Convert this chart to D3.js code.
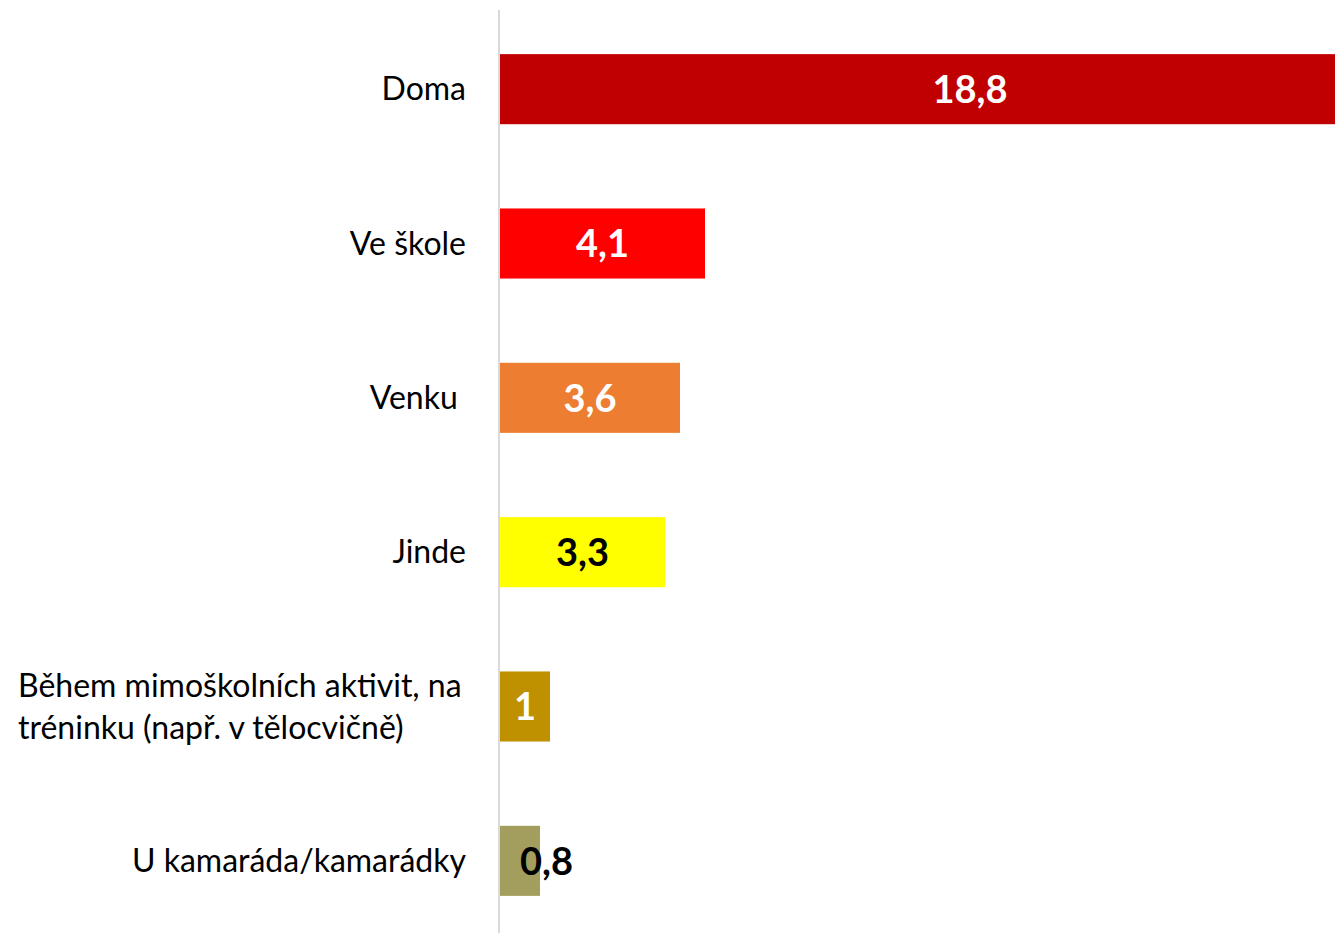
<!DOCTYPE html>
<html>
<head>
<meta charset="utf-8">
<script src="https://cdn.jsdelivr.net/npm/d3@7"></script>
<style>
  html, body { margin: 0; padding: 0; background: #fff; }
  svg { display: block; }
  text { font-family: Lato, "Open Sans", sans-serif; }
</style>
</head>
<body>
<svg id="chart" width="1335" height="933"></svg>
<script>
// Where the time is spent (values in %)
const categories = [
  ["Doma"],
  ["Ve škole"],
  ["Venku "],
  ["Jinde"],
  ["Během mimoškolních aktivit, na", "tréninku (např. v tělocvičně)"],
  ["U kamaráda/kamarádky"]
];
const values = [18.8, 4.1, 3.6, 3.3, 1, 0.8];
const barColors = ["#C00000", "#FF0000", "#ED7D31", "#FFFF00", "#BF9000", "#A39E5E"];
const labelColors = ["#fff", "#fff", "#fff", "#000", "#fff", "#000"];

const svg = d3.select("#chart");
const x0 = 500;
const x = d3.scaleLinear().domain([0, 16.7]).range([x0, 1335]);
const y = d3.scaleBand()
  .domain(d3.range(values.length))
  .range([12, 938])
  .paddingInner(0.546)
  .paddingOuter(0.273);

const fmt = v => String(v).replace(".", ",");

// bars (the longest one runs past the right edge)
svg.append("g").selectAll("rect")
  .data(values)
  .join("rect")
  .attr("x", x(0))
  .attr("y", (d, i) => y(i))
  .attr("width", d => x(d) - x(0))
  .attr("height", y.bandwidth())
  .attr("fill", (d, i) => barColors[i]);

// vertical category axis line
svg.append("line")
  .attr("x1", x0 - 1).attr("x2", x0 - 1)
  .attr("y1", 10).attr("y2", 933)
  .attr("stroke", "#D9D9D9").attr("stroke-width", 2);

// category labels
const catG = svg.append("g");
categories.forEach((lines, i) => {
  const cy = y(i) + y.bandwidth() / 2;
  if (lines.length === 1) {
    catG.append("text")
      .attr("x", 466)
      .attr("y", cy)
      .attr("dy", "0.35em")
      .attr("text-anchor", "end")
      .attr("font-size", 32)
      .attr("fill", "#000")
      .style("white-space", "pre")
      .text(lines[0]);
  } else {
    lines.forEach((ln, j) => {
      catG.append("text")
        .attr("x", 18)
        .attr("y", cy + (j - (lines.length - 1) / 2) * 42)
        .attr("dy", "0.35em")
        .attr("text-anchor", "start")
        .attr("font-size", 32)
        .attr("fill", "#000")
        .text(ln);
    });
  }
});

// value labels, centred in the bar; pushed outward when the bar is too narrow
const lblG = svg.append("g");
values.forEach((v, i) => {
  const t = lblG.append("text")
    .attr("y", y(i) + y.bandwidth() / 2)
    .attr("dy", "0.36em")
    .attr("font-size", 38)
    .attr("font-weight", "bold")
    .attr("fill", labelColors[i])
    .text(fmt(v));
  const w = t.node().getComputedTextLength();
  const bw = x(v) - x(0);
  t.attr("x", x(0) + bw / 2)
   .attr("text-anchor", w > bw ? "start" : "middle");
});
</script>
</body>
</html>
